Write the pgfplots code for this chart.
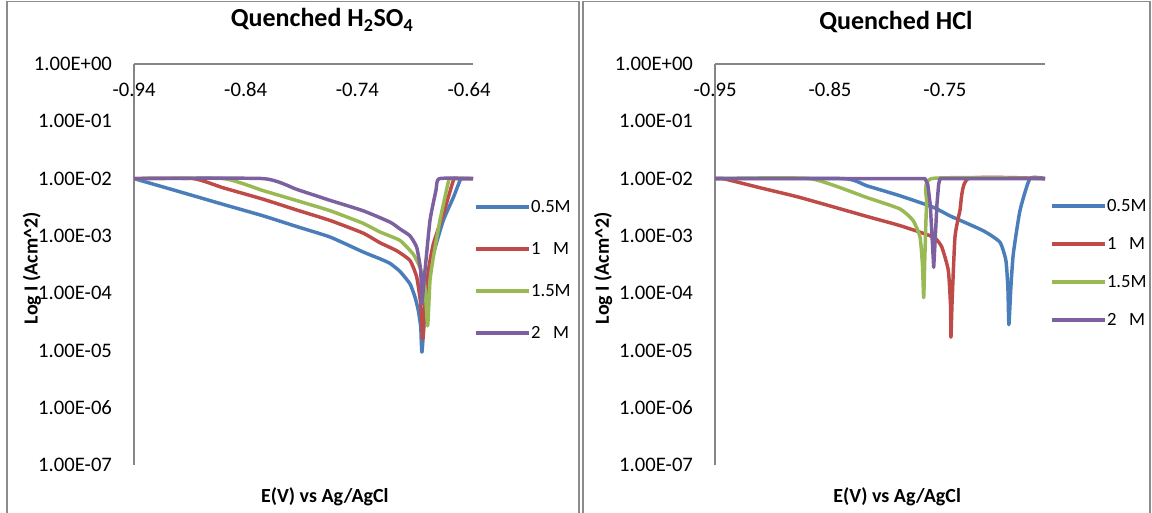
\documentclass[border=0pt]{standalone}
\usepackage{fontspec}
\setmainfont{Carlito}
\usepackage{pgfplots}
\usepackage{pgfplotstable}
\pgfplotsset{compat=1.18}
\definecolor{cblue}{HTML}{4A7EBB}
\definecolor{cred}{HTML}{BE4B48}
\definecolor{cgreen}{HTML}{98B954}
\definecolor{cpurple}{HTML}{7D60A0}
\definecolor{axgray}{HTML}{868686}
\definecolor{frgray}{HTML}{8C8C8C}
\newcommand\tickfont{\fontsize{15.5}{17}\selectfont}
\newcommand\legfont{\fontsize{14}{16}\selectfont}
\newcommand\titlefont{\fontsize{19.5}{22}\selectfont\bfseries}
\newcommand\labfont{\fontsize{15}{17}\selectfont\bfseries}

% Left: Quenched H2SO4
\pgfplotstableread{
x y
-0.940 1.00e-2
-0.900 5.96e-3
-0.8603 3.55e-3
-0.8245 2.24e-3
-0.7941 1.45e-3
-0.7645 9.55e-4
-0.7350 5.25e-4
-0.7198 3.98e-4
-0.7108 3.31e-4
-0.7019 2.40e-4
-0.6929 1.45e-4
-0.6884 8.51e-5
-0.6855 5.01e-5
-0.6833 2.57e-5
-0.6822 9.33e-6
-0.6795 5.01e-5
-0.6765 1.66e-4
-0.6720 4.79e-4
-0.6631 1.86e-3
-0.6541 4.68e-3
-0.6481 9.33e-3
-0.6464 1.00e-2
-0.6365 1.00e-2
}\LA
\pgfplotstableread{
x y
-0.940 1.00e-2
-0.8869 1.00e-2
-0.8603 6.92e-3
-0.8245 4.37e-3
-0.7941 2.82e-3
-0.7645 1.86e-3
-0.7350 1.12e-3
-0.7198 7.59e-4
-0.7048 5.50e-4
-0.6929 3.72e-4
-0.6869 1.91e-4
-0.6833 6.46e-5
-0.6815 1.58e-5
-0.6795 6.46e-5
-0.6765 2.45e-4
-0.6720 7.24e-4
-0.6631 2.40e-3
-0.6541 9.33e-3
-0.6526 1.00e-2
-0.6365 1.00e-2
}\LB
\pgfplotstableread{
x y
-0.940 1.00e-2
-0.8601 1.00e-2
-0.8245 6.17e-3
-0.7941 4.12e-3
-0.7645 2.75e-3
-0.7350 1.66e-3
-0.7198 1.17e-3
-0.7019 8.32e-4
-0.6900 4.79e-4
-0.6840 2.82e-4
-0.6795 1.26e-4
-0.6771 2.69e-5
-0.6750 1.66e-4
-0.6720 4.27e-4
-0.6661 1.86e-3
-0.6586 8.71e-3
-0.6571 1.00e-2
-0.6365 1.00e-2
}\LC
\pgfplotstableread{
x y
-0.940 1.00e-2
-0.8242 1.00e-2
-0.7941 6.46e-3
-0.7645 4.17e-3
-0.7350 2.75e-3
-0.7108 1.74e-3
-0.7019 1.32e-3
-0.6929 1.00e-3
-0.6869 6.31e-4
-0.6833 2.45e-4
-0.6824 6.46e-5
-0.6795 2.45e-4
-0.6750 1.86e-3
-0.6696 6.31e-3
-0.6667 1.00e-2
-0.6365 1.00e-2
}\LD

% Right: Quenched HCl
\pgfplotstableread{
x y
-0.950 1.00e-2
-0.8384 1.00e-2
-0.8181 7.50e-3
-0.7891 5.01e-3
-0.7602 3.16e-3
-0.7457 2.24e-3
-0.7167 1.23e-3
-0.7022 7.76e-4
-0.6970 3.72e-4
-0.6953 1.26e-4
-0.6944 2.82e-5
-0.6927 1.26e-4
-0.6906 4.79e-4
-0.6848 2.75e-3
-0.6761 1.00e-2
-0.6630 1.00e-2
}\RA
\pgfplotstableread{
x y
-0.950 1.00e-2
-0.9430 1.00e-2
-0.9109 6.92e-3
-0.8761 4.68e-3
-0.8181 2.19e-3
-0.7891 1.51e-3
-0.7602 9.55e-4
-0.7529 6.46e-4
-0.7471 2.51e-4
-0.7452 6.31e-5
-0.7448 1.70e-5
-0.7439 6.31e-5
-0.7413 9.55e-4
-0.7370 2.75e-3
-0.7297 1.00e-2
-0.6630 1.00e-2
}\RB
\pgfplotstableread{
x y
-0.950 1.00e-2
-0.8674 1.00e-2
-0.8181 4.68e-3
-0.7891 2.95e-3
-0.7778 1.86e-3
-0.7717 9.55e-4
-0.7696 3.16e-4
-0.7685 8.32e-5
-0.7674 5.01e-4
-0.7659 3.63e-3
-0.7616 1.00e-2
-0.6630 1.00e-2
}\RC
\pgfplotstableread{
x y
-0.950 1.00e-2
-0.7674 1.00e-2
-0.7650 8.00e-3
-0.7628 3.50e-3
-0.7610 8.00e-4
-0.7598 2.82e-4
-0.7586 8.00e-4
-0.7570 3.50e-3
-0.7555 8.00e-3
-0.7543 1.00e-2
-0.6630 1.00e-2
}\RD

\pgfplotsset{
 myax/.style={
  scale only axis, height=300.75pt,
  axis x line*=top, axis y line*=left,
  axis line style={draw=axgray, line width=1.3pt},
  major tick length=0pt, minor tick length=0pt,
  ytick={1e-7,1e-6,1e-5,1e-4,1e-3,1e-2,1e-1,1},
  yticklabels={1.00E-07,1.00E-06,1.00E-05,1.00E-04,1.00E-03,1.00E-02,1.00E-01,1.00E+00},
  tick label style={font=\tickfont},
  xticklabel style={anchor=north, yshift=-10.5pt},
  yticklabel style={anchor=east, xshift=-13pt},
  every axis plot/.append style={line width=2.6pt, line join=round, mark=none, smooth, tension=0.3},
  title style={font=\titlefont, anchor=center},
  xlabel style={font=\labfont, anchor=center},
  ylabel style={font=\labfont, anchor=center},
  legend style={draw=none, fill=none, font=\legfont, anchor=west, inner sep=0pt,
    nodes={inner sep=0pt, text height=10pt, text depth=2pt}},
  legend cell align=left,
  legend image code/.code={\draw[##1,line width=2.6pt,sharp plot] (0pt,0pt) -- (40pt,0pt);},
 }
}

\begin{document}
\begin{tikzpicture}
\path[use as bounding box] (0pt,0pt) rectangle (864pt,384pt);
\draw[frgray, line width=1pt] (5.25pt,-5pt) -- (5.25pt,382.9pt) -- (434.25pt,382.9pt) -- (434.25pt,-5pt);
\draw[frgray, line width=1pt] (437.25pt,-5pt) -- (437.25pt,382.9pt) -- (862.5pt,382.9pt) -- (862.5pt,-5pt);

\begin{axis}[ymode=log, ymin=1e-7, ymax=1, myax, at={(100.5pt,35.25pt)}, anchor=south west,
  width=254.25pt, xmin=-0.94, xmax=-0.6365,
  xtick={-0.94,-0.84,-0.74,-0.64}, xticklabels={-0.94,-0.84,-0.74,-0.64},
  title={Quenched H\textsubscript{2}SO\textsubscript{4}},
  title style={at={(axis description cs:0.555,1.09)}},
  xlabel={E(V) vs Ag/AgCl},
  xlabel style={at={(axis description cs:0.563,-0.08)}},
  ylabel={Log I (Acm\textasciicircum2)},
  ylabel style={at={(axis description cs:-0.301,0.491)}},
  legend style={at={(axis description cs:1.003,0.486)}, row sep=19.5pt},
]
\addplot[cblue] table {\LA};
\addplot[cred] table {\LB};
\addplot[cgreen] table {\LC};
\addplot[cpurple] table {\LD};
\legend{0.5M,1~~~M,1.5M,2~~~M}
\end{axis}

\begin{axis}[ymode=log, ymin=1e-7, ymax=1, myax, at={(536.25pt,35.25pt)}, anchor=south west,
  width=247.5pt, xmin=-0.95, xmax=-0.663,
  xtick={-0.95,-0.85,-0.75}, xticklabels={-0.95,-0.85,-0.75},
  title={Quenched HCl},
  title style={at={(axis description cs:0.548,1.085)}},
  xlabel={E(V) vs Ag/AgCl},
  xlabel style={at={(axis description cs:0.552,-0.08)}},
  ylabel={Log I (Acm\textasciicircum2)},
  ylabel style={at={(axis description cs:-0.339,0.491)}},
  legend style={at={(axis description cs:1.015,0.504)}, row sep=16.5pt},
]
\addplot[cblue] table {\RA};
\addplot[cred] table {\RB};
\addplot[cgreen] table {\RC};
\addplot[cpurple, sharp plot] table {\RD};
\legend{0.5M,1~~~M,1.5M,2~~~M}
\end{axis}
\end{tikzpicture}
\end{document}
